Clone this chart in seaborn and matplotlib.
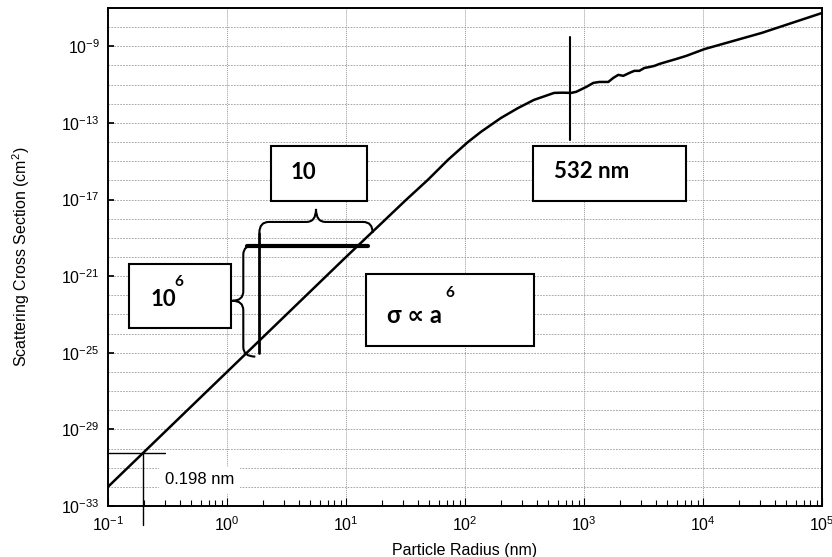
import numpy as np
import matplotlib
matplotlib.use("Agg")
import matplotlib.pyplot as plt
import seaborn as sns
from matplotlib.patches import Rectangle, PathPatch
from matplotlib.path import Path
from matplotlib.ticker import FixedLocator, LogLocator, LogFormatterSciNotation, NullFormatter

# values
radius_nm = [0.1, 1, 10, 31.6, 48.6, 71.8, 105.7, 136, 200, 279, 380, 561, 661, 780,
             859, 1045, 1197, 1343, 1600, 1762, 1941, 2138, 2404, 2649, 2917, 3214,
             3540, 3899, 4295, 4932, 5984, 7261, 10300, 31100, 100000]
sigma_cm2 = [1.0e-32, 1.0e-26, 1.0e-20, 9.0e-18, 1.05e-16, 1.17e-15, 1.0e-14, 3.4e-14,
             1.8e-13, 6.0e-13, 1.6e-12, 3.7e-12, 3.8e-12, 3.7e-12,
             4.2e-12, 7.6e-12, 1.23e-11, 1.38e-11, 1.38e-11, 2.24e-11, 3.24e-11, 2.88e-11,
             4.07e-11, 5.25e-11, 5.25e-11, 7.4e-11,
             8.3e-11, 9.5e-11, 1.2e-10, 1.55e-10, 2.2e-10, 3.2e-10, 7.2e-10, 5.0e-9, 5.5e-8]

y_major = [1e-33, 1e-29, 1e-25, 1e-21, 1e-17, 1e-13, 1e-9]
marker_radius = 0.198
marker_sigma = 5.5e-31
mie_line_x = 762

sns.set_theme(style="white")
plt.rcParams["font.family"] = ["Liberation Sans", "DejaVu Sans"]
plt.rcParams["mathtext.default"] = "regular"
plt.rcParams["axes.unicode_minus"] = False
for k in ["text.color", "axes.labelcolor", "xtick.color", "ytick.color"]:
    plt.rcParams[k] = "black"

fig = plt.figure(figsize=(8.32, 5.57), dpi=100)
ax = fig.add_axes([0.1298, 0.0916, 0.8582, 0.894])
ax.set_xscale("log")
ax.set_yscale("log")

sns.lineplot(x=radius_nm, y=sigma_cm2, ax=ax, color="black", linewidth=1.8, sort=False)

ax.set_xlim(1e-1, 1e5)
ax.set_ylim(1e-33, 1e-7)

ax.yaxis.set_major_locator(FixedLocator(y_major))
ax.yaxis.set_major_formatter(LogFormatterSciNotation())
ax.yaxis.set_minor_locator(LogLocator(base=10, subs=[1.0], numticks=60))
ax.yaxis.set_minor_formatter(NullFormatter())
ax.xaxis.set_major_locator(LogLocator(base=10, numticks=20))
ax.xaxis.set_minor_locator(LogLocator(base=10, subs=np.arange(2, 10), numticks=20))
ax.xaxis.set_minor_formatter(NullFormatter())

ax.grid(True, which="both", axis="y", color="#9a9a9a", linestyle=(0, (2, 1.5)), linewidth=0.6)
ax.grid(True, which="major", axis="x", color="#9a9a9a", linestyle=(0, (1, 1)), linewidth=0.7)

ax.tick_params(axis="both", which="both", direction="in", labelsize=11.5)
ax.tick_params(axis="x", which="major", length=6, width=0.8, bottom=True, pad=7)
ax.tick_params(axis="x", which="minor", length=4, width=0.8, bottom=True)
ax.tick_params(axis="y", which="major", length=4, left=True, pad=6)
ax.tick_params(axis="y", which="minor", length=0)
for s in ax.spines.values():
    s.set_color("black")
    s.set_linewidth(1.4)

ax.set_xlabel("Particle Radius (nm)", fontsize=11.5, labelpad=6)
ax.set_ylabel("Scattering Cross Section (cm$^{2}$)", fontsize=11.5, labelpad=21)

# 0.198 nm marker
ax.plot([1e-1, 0.3], [marker_sigma, marker_sigma], color="black", linewidth=1.0)
ax.plot([marker_radius, marker_radius], [marker_sigma, 10**-34.0], color="black",
        linewidth=1.0, clip_on=False)
ax.text(0.30, 10**-31.64, "0.198 nm", fontsize=12, va="center", ha="left",
        bbox=dict(facecolor="white", edgecolor="none", pad=4))

# 532 nm marker line
ax.plot([mie_line_x, mie_line_x], [10**-8.51, 10**-13.89], color="black", linewidth=1.5)


def box(x0, x1, ly0, ly1):
    r = Rectangle((x0, 10**ly0), x1 - x0, 10**ly1 - 10**ly0, facecolor="white",
                  edgecolor="black", linewidth=1.5, zorder=5)
    ax.add_patch(r)


def brace_h(lx0, lx1, ly_arm, ly_end, ly_tip):
    xm = (lx0 + lx1) / 2
    r = 0.08
    pts = [(lx0, ly_end), (lx0, ly_arm), (lx0 + r, ly_arm),
           (xm - r, ly_arm), (xm, ly_arm), (xm, ly_tip),
           (xm, ly_arm), (xm + r, ly_arm),
           (lx1 - r, ly_arm), (lx1, ly_arm), (lx1, ly_end)]
    codes = [Path.MOVETO, Path.CURVE3, Path.CURVE3,
             Path.LINETO, Path.CURVE3, Path.CURVE3,
             Path.CURVE3, Path.CURVE3,
             Path.LINETO, Path.CURVE3, Path.CURVE3]
    v = [(10**a, 10**b) for a, b in pts]
    ax.add_patch(PathPatch(Path(v, codes), facecolor="none", edgecolor="black",
                           linewidth=1.5, zorder=6))


def brace_v(lx_arm, lx_end, lx_tip, ly0, ly1):
    ym = (ly0 + ly1) / 2
    r = 0.5
    pts = [(lx_end, ly0), (lx_arm, ly0), (lx_arm, ly0 - r),
           (lx_arm, ym + r), (lx_arm, ym), (lx_tip, ym),
           (lx_arm, ym), (lx_arm, ym - r),
           (lx_arm, ly1 + r), (lx_arm, ly1), (lx_end, ly1)]
    codes = [Path.MOVETO, Path.CURVE3, Path.CURVE3,
             Path.LINETO, Path.CURVE3, Path.CURVE3,
             Path.CURVE3, Path.CURVE3,
             Path.LINETO, Path.CURVE3, Path.CURVE3]
    v = [(10**a, 10**b) for a, b in pts]
    ax.add_patch(PathPatch(Path(v, codes), facecolor="none", edgecolor="black",
                           linewidth=1.5, zorder=6))


bold = dict(family=["Lato", "DejaVu Sans"], fontweight="bold", color="black", zorder=7)

# scale annotation
ax.plot([1.48, 15.2], [10**-19.42, 10**-19.42], color="black", linewidth=3, zorder=6)
ax.plot([1.84, 1.84], [10**-18.74, 10**-25.01], color="black", linewidth=2, zorder=6)
brace_h(0.272, 1.224, -18.17, -18.74, -17.49)
brace_v(0.137, 0.238, 0.045, -19.37, -25.2)

box(2.36, 14.9, -14.20, -17.07)
ax.text(3.41, 10**-15.61, "10", fontsize=16, va="center", ha="left", **bold)

box(0.150, 1.087, -20.36, -23.71)
ax.text(0.226, 10**-22.24, "10", fontsize=16, va="center", ha="left", **bold)
ax.text(0.36, 10**-21.30, "6", fontsize=11, va="center", ha="left", **bold)

box(14.6, 380, -20.89, -24.64)
ax.text(22, 10**-23.03, "σ ∝ a", fontsize=17, va="center", ha="left", **bold)
ax.text(69, 10**-21.88, "6", fontsize=11, va="center", ha="left", **bold)

box(373, 7130, -14.20, -17.07)
ax.text(561, 10**-15.56, "532 nm", fontsize=16, va="center", ha="left", **bold)

fig.savefig("out.png", dpi=100)
